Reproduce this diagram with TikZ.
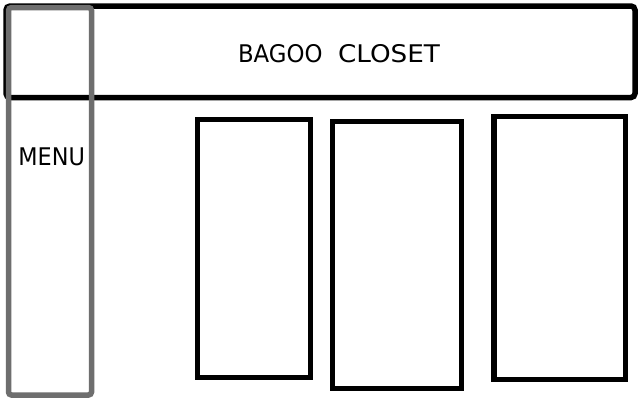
\documentclass[tikz,border=0pt]{standalone}
\usepackage{fontspec}
\setmainfont{DejaVu Sans}
\definecolor{menugray}{HTML}{6E6E6E}
\tikzset{
  blackbox/.style={draw=black, line width=5.5pt},
  header/.style={draw=black, line width=5.5pt, rounded corners=4pt},
  menubox/.style={draw=menugray, line width=5.5pt, rounded corners=3pt},
  label/.style={anchor=base, inner sep=0pt, font=\fontsize{24.3}{28}\selectfont}
}
\begin{document}
\begin{tikzpicture}[x=1pt,y=-1pt]
\useasboundingbox (0,0) rectangle (640,400);
\fill[white] (0,0) rectangle (640,400);
% header
\draw[header] (6,6) rectangle (635,97.5);
% content boxes
\draw[blackbox] (197.5,119.5) rectangle (310.5,377.5);
\draw[blackbox] (332.5,121.5) rectangle (461.5,388.5);
\draw[blackbox] (494,116.5) rectangle (625.5,379.5);
% menu
\draw[menubox] (8.5,7.5) rectangle (91.5,395);
% texts
\node[label] (title) at (339,62.7) {\scalebox{0.94}[1]{BAGOO}\hspace{15.5pt}\scalebox{1.08}[1]{CLOSET}};
\node[label] (menu) at (51.7,165) {\scalebox{0.92}[1]{MENU}};
\end{tikzpicture}
\end{document}
